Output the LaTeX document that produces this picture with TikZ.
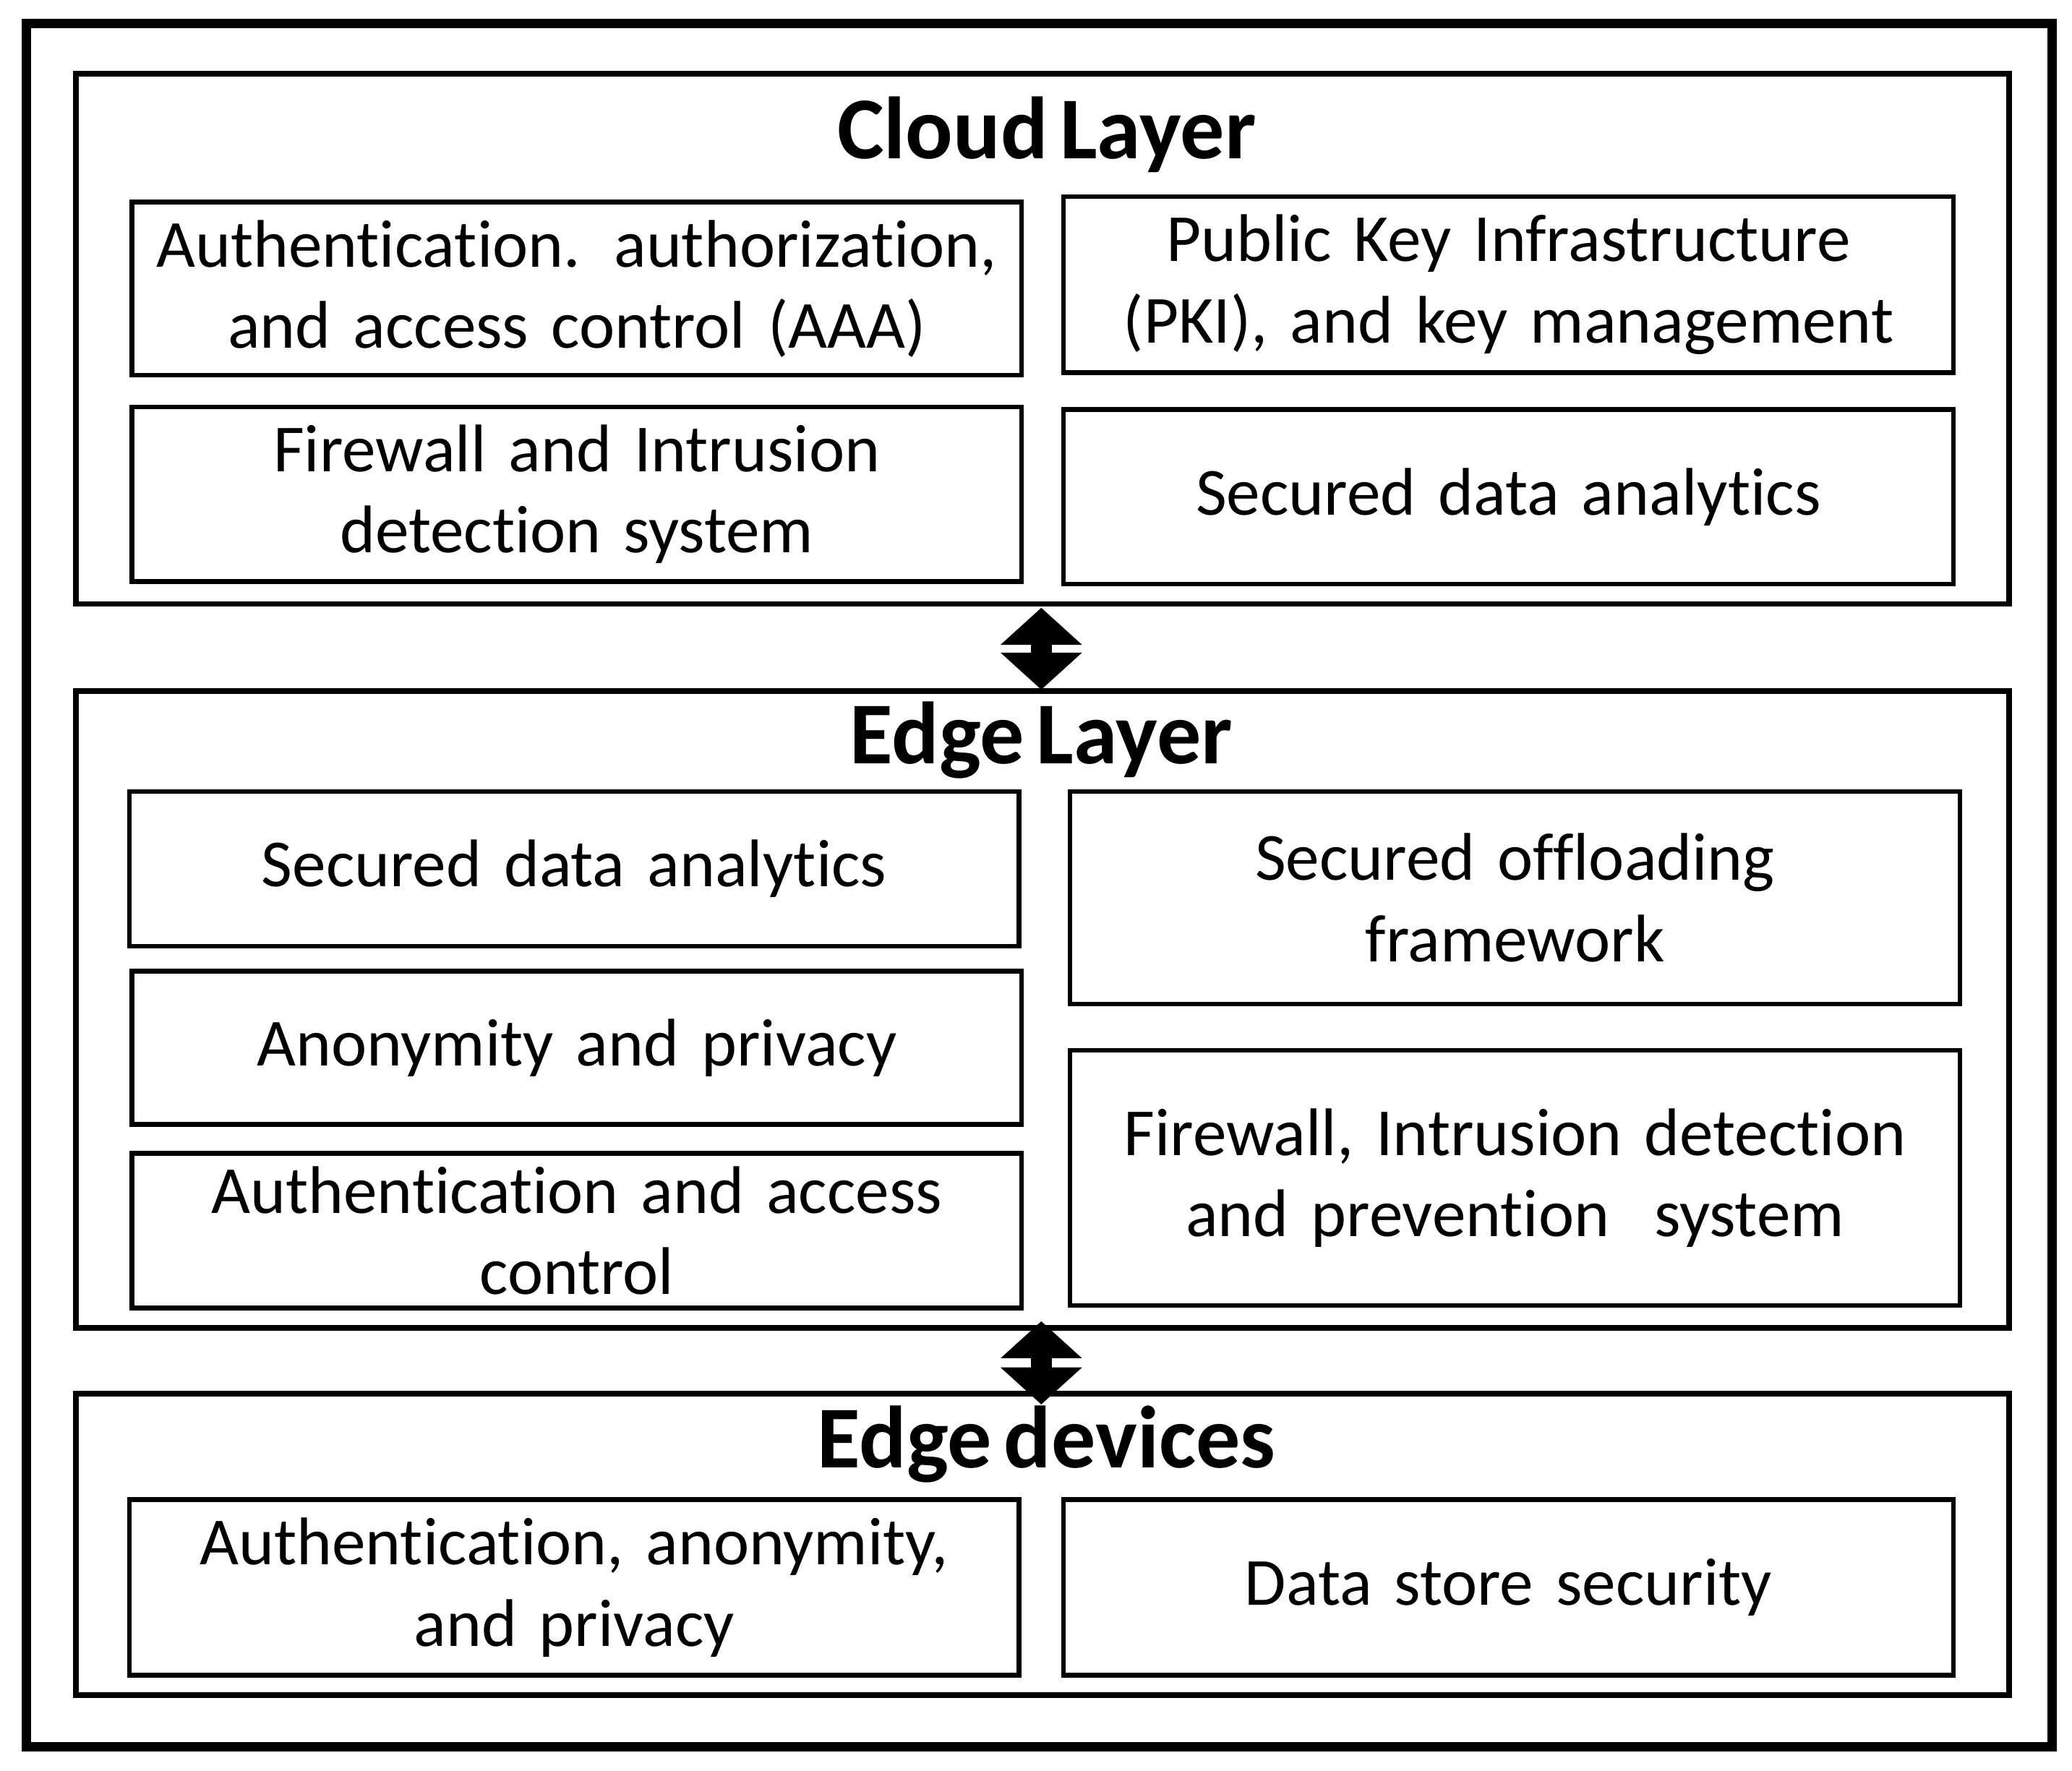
\documentclass[tikz,border=0pt]{standalone}
\usepackage{fontspec}
\setmainfont{Carlito}[WordSpace=0.6, RawFeature=-liga]
\usetikzlibrary{arrows.meta}
\tikzset{%
  % Specifications for style of nodes:
      item/.style = {rectangle, draw=black, line width=1pt, inner sep=0pt,
                     minimum width=6.73cm, text width=6.6cm, align=center,
                     font=\fontsize{14.5}{17.5}\selectfont},
     layer/.style = {rectangle, draw=black, line width=1.2pt, inner sep=0pt,
                     minimum width=14.62cm},
     title/.style = {font=\fontsize{19}{22}\selectfont\bfseries},
   twoway/.style = {line width=0.16cm,
                    {Triangle[width=0.6cm,length=0.28cm]}-{Triangle[width=0.6cm,length=0.28cm]}},
}
\begin{document}
\begin{tikzpicture}[x=0.01cm, y=-0.01cm]
  \useasboundingbox (0,0) rectangle (1568,1340);
  \draw[line width=2pt] (20,18) rectangle (1553,1322);
  % Layers
  \node (cloud)   [layer, minimum height=4.01cm] at (789,256.5) {};
  \node (edge)    [layer, minimum height=4.82cm] at (789,764) {};
  \node (devices) [layer, minimum height=2.28cm] at (789,1169) {};
  \node (cloudTitle)   [title] at (792,102)  {Cloud Layer};
  \node (edgeTitle)    [title] at (788,560)  {Edge Layer};
  \node (devicesTitle) [title] at (792,1093) {Edge devices};
  % Cloud layer items
  \node (aaa)      [item, minimum height=1.31cm] at (436.5,218.5)
                   {Authentication. authorization,\\ and access control (AAA)};
  \node (pki)      [item, minimum height=1.33cm] at (1141.5,215.5)
                   {Public Key Infrastructure\\ (PKI), and key management};
  \node (cloudFw)  [item, minimum height=1.32cm] at (436.5,374)
                   {Firewall and Intrusion\\ detection system};
  \node (cloudSda) [item, minimum height=1.32cm] at (1141.5,376)
                   {Secured data analytics};
  % Edge layer items
  \node (edgeSda)  [item, minimum height=1.17cm] at (434.5,657.5)
                   {Secured data analytics};
  \node (anon)     [item, minimum height=1.16cm] at (436.5,793)
                   {Anonymity and privacy};
  \node (edgeAuth) [item, minimum height=1.17cm] at (436.5,931.5)
                   {Authentication and access\\ control};
  \node (offload)  [item, minimum height=1.61cm] at (1146.5,679.5)
                   {Secured offloading\\ framework};
  \node (edgeFw)   [item, minimum height=1.93cm] at (1146.5,891.5)
                   {Firewall, Intrusion detection\\ and prevention\ \ system};
  % Edge devices items
  \node (devAuth)  [item, minimum height=1.33cm] at (434.5,1201.5)
                   {Authentication, anonymity,\\ and privacy};
  \node (store)    [item, minimum height=1.33cm] at (1141.5,1201.5)
                   {Data store security};
  % Connectors between layers
  \coordinate (c1) at (788,460);
  \coordinate (e1) at (788,522);
  \coordinate (e2) at (788,1000);
  \coordinate (d1) at (788,1063);
  \draw[twoway] (c1) -- (e1);
  \draw[twoway] (e2) -- (d1);
\end{tikzpicture}
\end{document}
